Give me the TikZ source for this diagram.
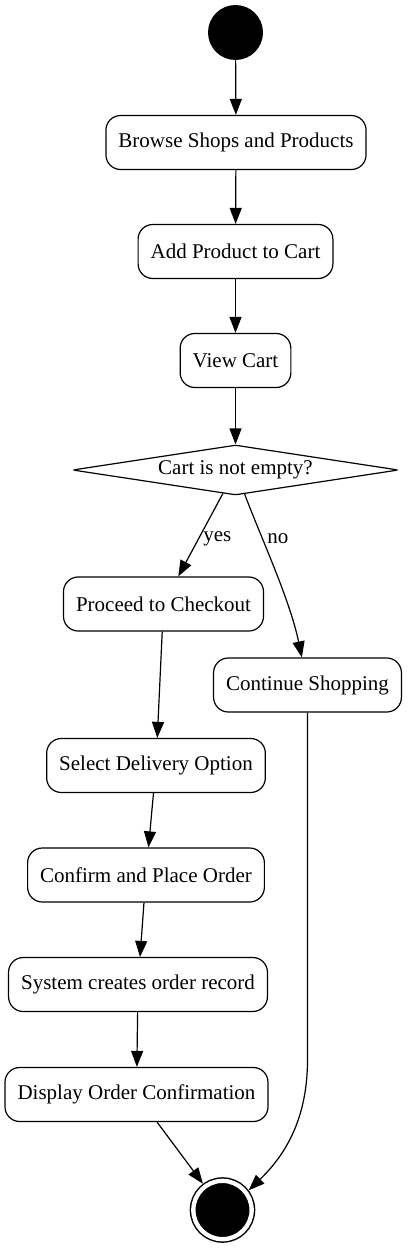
\documentclass[tikz,border=0pt]{standalone}
\usepackage{fontspec}
\setmainfont{Liberation Serif}
\usetikzlibrary{shapes.geometric,arrows.meta}

\begin{document}
\begin{tikzpicture}[x=0.75pt,y=-0.75pt,
    every node/.style={font=\fontsize{15.75}{18}\selectfont},
    act/.style={draw,rounded corners=11pt,line width=0.9pt,minimum height=40.5pt,inner xsep=9.4pt,fill=white},
    initial/.style={circle,fill=black,minimum size=41.25pt,inner sep=0pt},
    final/.style={circle,fill=black,draw=black,double=white,double distance=3.25pt,line width=1.1pt,minimum size=43.75pt,inner sep=0pt,outer sep=2.7pt},
    choice/.style={diamond,draw,aspect=6.5,minimum width=244.5pt,minimum height=37.5pt,inner sep=0pt,rounded corners=2pt,line width=0.9pt},
    flow/.style={-{Triangle[length=12pt,width=9pt]},line width=0.9pt}]
      \useasboundingbox[fill=white] (0,0) rectangle (415,1249);
      \draw
        (235.5, 32.5) node[initial] (start){}
        (236, 142.5) node[act] (browse){Browse Shops and Products}
        (235.5, 251.5) node[act] (add){Add Product to Cart}
        (235.5, 360.5) node[act] (view){View Cart}
        (235.5, 470) node[choice] (cart){Cart is not empty?}
        (163.5, 604) node[act] (checkout){Proceed to Checkout}
        (307.5, 685) node[act] (shopping){Continue Shopping}
        (156, 765.5) node[act] (delivery){Select Delivery Option}
        (146, 875) node[act] (place){Confirm and Place Order}
        (138, 984.5) node[act] (record){System creates order record}
        (136.5, 1094.5) node[act] (confirm){Display Order Confirmation}
        (222.5, 1210) node[final] (end){};
      \begin{scope}[flow]
        \draw (start) -- (browse);
        \draw (browse) -- (add);
        \draw (add) -- (view);
        \draw (view) -- (cart);
        \draw (cart) -- node[pos=0.55,right] {yes} (checkout);
        \draw (cart) .. controls (262,540) and (290,600) .. node[pos=0.3,right] {no} (shopping);
        \draw (checkout) -- (delivery);
        \draw (delivery) -- (place);
        \draw (place) -- (record);
        \draw (record) -- (confirm);
        \draw (confirm) -- (end);
        \draw (shopping) -- (307.5,1060) .. controls (307.5,1125) and (280,1160) .. (end.37);
      \end{scope}
    \end{tikzpicture}
\end{document}
